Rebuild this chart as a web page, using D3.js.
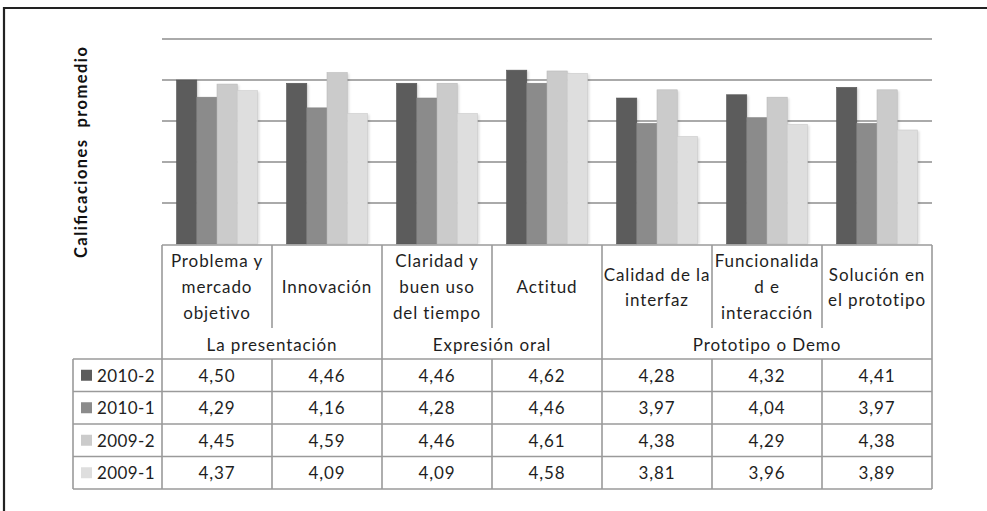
<!DOCTYPE html>
<html>
<head>
<meta charset="utf-8">
<script src="https://cdn.jsdelivr.net/npm/d3@7"></script>
<style>
  html, body { margin: 0; padding: 0; background: #fff; }
  svg { display: block; font-family: Lato, "Open Sans", sans-serif; }
</style>
</head>
<body>
<svg id="chart" width="987" height="511"></svg>
<script>
// Criteria (column headers, split into lines as shown in the table)
const categories = [
  ["Problema y", "mercado", "objetivo"],
  ["Innovación"],
  ["Claridad y", "buen uso", "del tiempo"],
  ["Actitud"],
  ["Calidad de la", "interfaz"],
  ["Funcionalida", "d e", "interacción"],
  ["Solución en", "el prototipo"]
];
// Criterion groups and how many columns each one spans
const groupNames = ["La presentación", "Expresión oral", "Prototipo o Demo"];
const groupSpans = [2, 2, 3];

// Semesters
const seriesNames = ["2010-2", "2010-1", "2009-2", "2009-1"];
// Average scores per semester, one value per criterion
const s2010_2 = [4.50, 4.46, 4.46, 4.62, 4.28, 4.32, 4.41];
const s2010_1 = [4.29, 4.16, 4.28, 4.46, 3.97, 4.04, 3.97];
const s2009_2 = [4.45, 4.59, 4.46, 4.61, 4.38, 4.29, 4.38];
const s2009_1 = [4.37, 4.09, 4.09, 4.58, 3.81, 3.96, 3.89];
const seriesValues = [s2010_2, s2010_1, s2009_2, s2009_1];

// Value axis
const yDomain = [2.5, 5.0];
const yTicks = [3.0, 3.5, 4.0, 4.5, 5.0];

const colors = ["#5c5c5c", "#8b8b8b", "#cbcbcb", "#dedede"];
const lineColor = "#9a9a9a";
const textColor = "#1e1e1e";

const svg = d3.select("#chart");

// Frame
svg.append("line").attr("x1", 3).attr("x2", 987).attr("y1", 8).attr("y2", 8)
  .attr("stroke", "#222").attr("stroke-width", 2.2);
svg.append("line").attr("x1", 4).attr("x2", 4).attr("y1", 7).attr("y2", 511)
  .attr("stroke", "#222").attr("stroke-width", 2.2);

const plotLeft = 162, plotRight = 932, plotTop = 39, plotBottom = 244;

const x = d3.scaleBand().domain(d3.range(categories.length)).range([plotLeft, plotRight]);
const xs = d3.scaleBand().domain(seriesNames).range([0, x.bandwidth()])
  .paddingInner(0).paddingOuter(0.72);
const y = d3.scaleLinear().domain(yDomain).range([plotBottom, plotTop]);

// Gridlines
svg.append("g").selectAll("line").data(yTicks).join("line")
  .attr("x1", plotLeft).attr("x2", plotRight)
  .attr("y1", d => y(d)).attr("y2", d => y(d))
  .attr("stroke", "#8e8e8e").attr("stroke-width", 1.6);

// Bars with a soft drop shadow
const defs = svg.append("defs");
defs.append("filter").attr("id", "soft").attr("x", "-20%").attr("y", "-20%")
  .attr("width", "140%").attr("height", "140%")
  .append("feGaussianBlur").attr("stdDeviation", 0.8);

const barData = [];
seriesNames.forEach((s, si) => {
  seriesValues[si].forEach((v, ci) => barData.push({ s, si, ci, v }));
});

svg.append("g").attr("filter", "url(#soft)").selectAll("rect").data(barData).join("rect")
  .attr("x", d => x(d.ci) + xs(d.s) + 2)
  .attr("y", d => y(d.v) + 1)
  .attr("width", xs.bandwidth())
  .attr("height", d => plotBottom - y(d.v) - 1)
  .attr("fill", "rgba(0,0,0,0.13)");

svg.append("g").selectAll("rect").data(barData).join("rect")
  .attr("x", d => x(d.ci) + xs(d.s))
  .attr("y", d => y(d.v))
  .attr("width", xs.bandwidth())
  .attr("height", d => plotBottom - y(d.v))
  .attr("fill", d => colors[d.si])
  .attr("stroke", d => d3.color(colors[d.si]).darker(0.25))
  .attr("stroke-width", 0.6);

// Value axis title
svg.append("text")
  .attr("transform", "translate(87,152.5) rotate(-90)")
  .attr("text-anchor", "middle")
  .attr("font-weight", "bold")
  .attr("font-size", 16.5)
  .attr("fill", "#111")
  .attr("xml:space", "preserve")
  .attr("textLength", 211)
  .attr("lengthAdjust", "spacing")
  .text("Calificaciones  promedio");

// Data table
const headerBottom = 328, groupBottom = 359;
const rowH = 32.5;
const tableBottom = groupBottom + rowH * seriesNames.length;
const legendLeft = 73;
const fs = 17;
const tbl = svg.append("g").attr("stroke", lineColor).attr("stroke-width", 1.6);

// Top line under the bars
tbl.append("line").attr("x1", plotLeft).attr("x2", plotRight)
  .attr("y1", plotBottom + 1).attr("y2", plotBottom + 1);

// Group boundaries (full height) and criterion dividers (header only)
const groupEdges = [0];
groupSpans.forEach(n => groupEdges.push(groupEdges[groupEdges.length - 1] + n));
d3.range(categories.length + 1).forEach(i => {
  const xx = i < categories.length ? x(i) : plotRight;
  const full = groupEdges.includes(i);
  tbl.append("line").attr("x1", xx).attr("x2", xx)
    .attr("y1", plotBottom + 1).attr("y2", full ? tableBottom : headerBottom);
});
// Criterion dividers through the value rows
d3.range(1, categories.length).forEach(i => {
  if (!groupEdges.includes(i))
    tbl.append("line").attr("x1", x(i)).attr("x2", x(i))
      .attr("y1", groupBottom).attr("y2", tableBottom);
});
// Row lines
d3.range(seriesNames.length + 1).forEach(r => {
  const yy = groupBottom + r * rowH;
  tbl.append("line").attr("x1", legendLeft).attr("x2", plotRight)
    .attr("y1", yy).attr("y2", yy);
});
tbl.append("line").attr("x1", legendLeft).attr("x2", legendLeft)
  .attr("y1", groupBottom).attr("y2", tableBottom);

const txt = svg.append("g").attr("fill", textColor).attr("font-size", fs)
  .attr("letter-spacing", 0.9);

// Criterion headers
categories.forEach((lines, i) => {
  const cx = x(i) + x.bandwidth() / 2;
  const n = lines.length;
  const lh = n === 2 ? 25 : 26;
  lines.forEach((ln, k) => {
    txt.append("text").attr("x", cx)
      .attr("y", 293 + (k - (n - 1) / 2) * lh)
      .attr("text-anchor", "middle").text(ln);
  });
});

// Group labels
groupNames.forEach((g, gi) => {
  const x0 = x(groupEdges[gi]);
  const x1 = groupEdges[gi + 1] < categories.length ? x(groupEdges[gi + 1]) : plotRight;
  txt.append("text").attr("x", (x0 + x1) / 2).attr("y", 351)
    .attr("text-anchor", "middle").text(g);
});

// Values and legend keys
const fmt = d3.formatLocale({ decimal: ",", thousands: ".", grouping: [3], currency: ["", ""] }).format(".2f");
seriesNames.forEach((s, si) => {
  const cy = groupBottom + si * rowH + rowH / 2;
  svg.append("rect").attr("x", 81).attr("y", cy - 5.5).attr("width", 11).attr("height", 11)
    .attr("fill", colors[si]);
  txt.append("text").attr("x", 97).attr("y", cy + 6.5).attr("letter-spacing", 0.4).text(s);
  seriesValues[si].forEach((v, ci) => {
    txt.append("text").attr("x", x(ci) + x.bandwidth() / 2).attr("y", cy + 6.5)
      .attr("text-anchor", "middle").text(fmt(v));
  });
});
</script>
</body>
</html>
